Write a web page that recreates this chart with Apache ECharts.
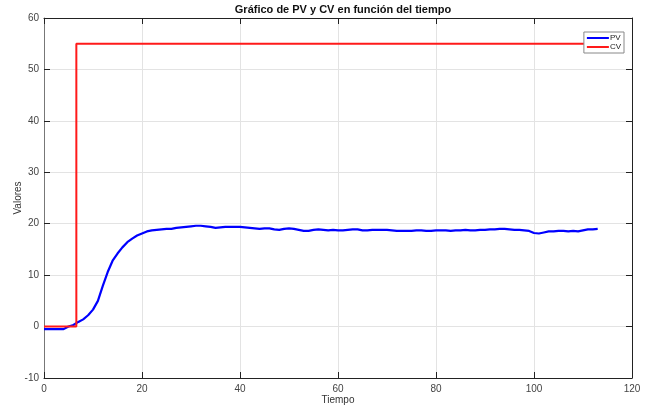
<!DOCTYPE html>
<html>
<head>
<meta charset="utf-8">
<script src="https://cdn.jsdelivr.net/npm/echarts@6/dist/echarts.min.js"></script>
<style>
  html, body { margin: 0; padding: 0; background: #fff; }
  #chart { width: 649px; height: 409px; }
</style>
</head>
<body>
<div id="chart"></div>
<script>
// Time (s) and process value
const time = [];
for (let i = 0; i <= 113; i++) time.push(i);

const pvValues = [
    -0.5, -0.5, -0.5, -0.5, -0.5, 0.0, 0.3, 0.9, 1.4, 2.2,
    3.3, 5.0, 7.9, 10.6, 12.8, 14.2, 15.4, 16.4, 17.1, 17.7,
    18.1, 18.5, 18.7, 18.8, 18.9, 19.0, 19.0, 19.2, 19.3, 19.4,
    19.5, 19.6, 19.6, 19.5, 19.4, 19.2, 19.3, 19.4, 19.4, 19.4,
    19.4, 19.3, 19.2, 19.1, 19.0, 19.1, 19.1, 18.9, 18.8, 19.0,
    19.1, 19.0, 18.8, 18.6, 18.6, 18.8, 18.9, 18.8, 18.7, 18.8,
    18.7, 18.7, 18.8, 18.9, 18.9, 18.7, 18.7, 18.8, 18.8, 18.8,
    18.8, 18.7, 18.6, 18.6, 18.6, 18.6, 18.7, 18.7, 18.6, 18.6,
    18.7, 18.7, 18.7, 18.6, 18.7, 18.7, 18.8, 18.7, 18.7, 18.8,
    18.8, 18.9, 18.9, 19.0, 19.0, 18.9, 18.8, 18.8, 18.7, 18.6,
    18.2, 18.1, 18.3, 18.5, 18.5, 18.6, 18.6, 18.5, 18.6, 18.5,
    18.7, 18.9, 18.9, 19.0
];

// Control value: step from 0 to 55
const cvTime = [0, 6.6, 6.6, 113];
const cvValues = [0, 0, 55, 55];

const chart = echarts.init(document.getElementById('chart'));

const tickLabel = { color: '#444', fontSize: 10, fontFamily: 'Liberation Sans, Arial, sans-serif' };
const tickStyle = { show: true, inside: true, length: 6, lineStyle: { color: '#222' } };

const option = {
    animation: false,
    title: {
        text: 'Gráfico de PV y CV en función del tiempo',
        left: 338,
        textAlign: 'center',
        top: -1,
        textStyle: { fontSize: 11, fontWeight: 'bold', color: '#111', fontFamily: 'Liberation Sans, Arial, sans-serif' }
    },
    legend: {
        orient: 'vertical',
        right: 25,
        top: 32,
        itemWidth: 22,
        itemHeight: 2,
        itemGap: 1,
        padding: [2, 3, 2, 3],
        borderColor: '#888',
        borderWidth: 1,
        backgroundColor: '#fff',
        textStyle: { fontSize: 8, color: '#222', padding: [0, 0, 0, -4] },
        data: [
            { name: 'PV', icon: 'rect' },
            { name: 'CV', icon: 'rect' }
        ]
    },
    grid: { left: 44, right: 17, top: 18, bottom: 31, outerBoundsMode: 'none', containLabel: false },
    xAxis: [{
        type: 'value',
        min: 0,
        max: 120,
        interval: 20,
        name: 'Tiempo',
        nameLocation: 'middle',
        nameGap: 17,
        nameMoveOverlap: false,
        nameTextStyle: { fontSize: 10, color: '#333' },
        axisLine: { onZero: false, lineStyle: { color: '#222', width: 1 } },
        axisTick: tickStyle,
        axisLabel: Object.assign({ margin: 6 }, tickLabel),
        splitLine: { show: true, lineStyle: { color: '#e3e3e3' } }
    }, {
        type: 'value',
        position: 'top',
        min: 0,
        max: 120,
        interval: 20,
        axisLine: { show: true, onZero: false, lineStyle: { color: '#222' } },
        axisTick: tickStyle,
        axisLabel: { show: false },
        splitLine: { show: false }
    }],
    yAxis: [{
        type: 'value',
        min: -10,
        max: 60,
        interval: 10,
        name: 'Valores',
        nameLocation: 'middle',
        nameGap: 21,
        nameMoveOverlap: false,
        nameTextStyle: { fontSize: 10, color: '#333' },
        axisLine: { show: true, onZero: false, lineStyle: { color: '#777', width: 1 } },
        axisTick: tickStyle,
        axisLabel: Object.assign({ margin: 5 }, tickLabel),
        splitLine: { show: true, lineStyle: { color: '#e3e3e3' } }
    }, {
        type: 'value',
        position: 'right',
        min: -10,
        max: 60,
        interval: 10,
        axisLine: { show: true, onZero: false, lineStyle: { color: '#222' } },
        axisTick: tickStyle,
        axisLabel: { show: false },
        splitLine: { show: false }
    }],
    series: [{
        name: 'PV',
        type: 'line',
        data: time.map((t, i) => [t, pvValues[i]]),
        showSymbol: false,
        color: '#0000ff',
        lineStyle: { color: '#0000ff', width: 2.2 }
    }, {
        name: 'CV',
        type: 'line',
        data: cvTime.map((t, i) => [t, cvValues[i]]),
        showSymbol: false,
        color: '#ff1a1a',
        lineStyle: { color: '#ff1a1a', width: 2 }
    }]
};

chart.setOption(option);
window.addEventListener('resize', () => chart.resize());
</script>
</body>
</html>
